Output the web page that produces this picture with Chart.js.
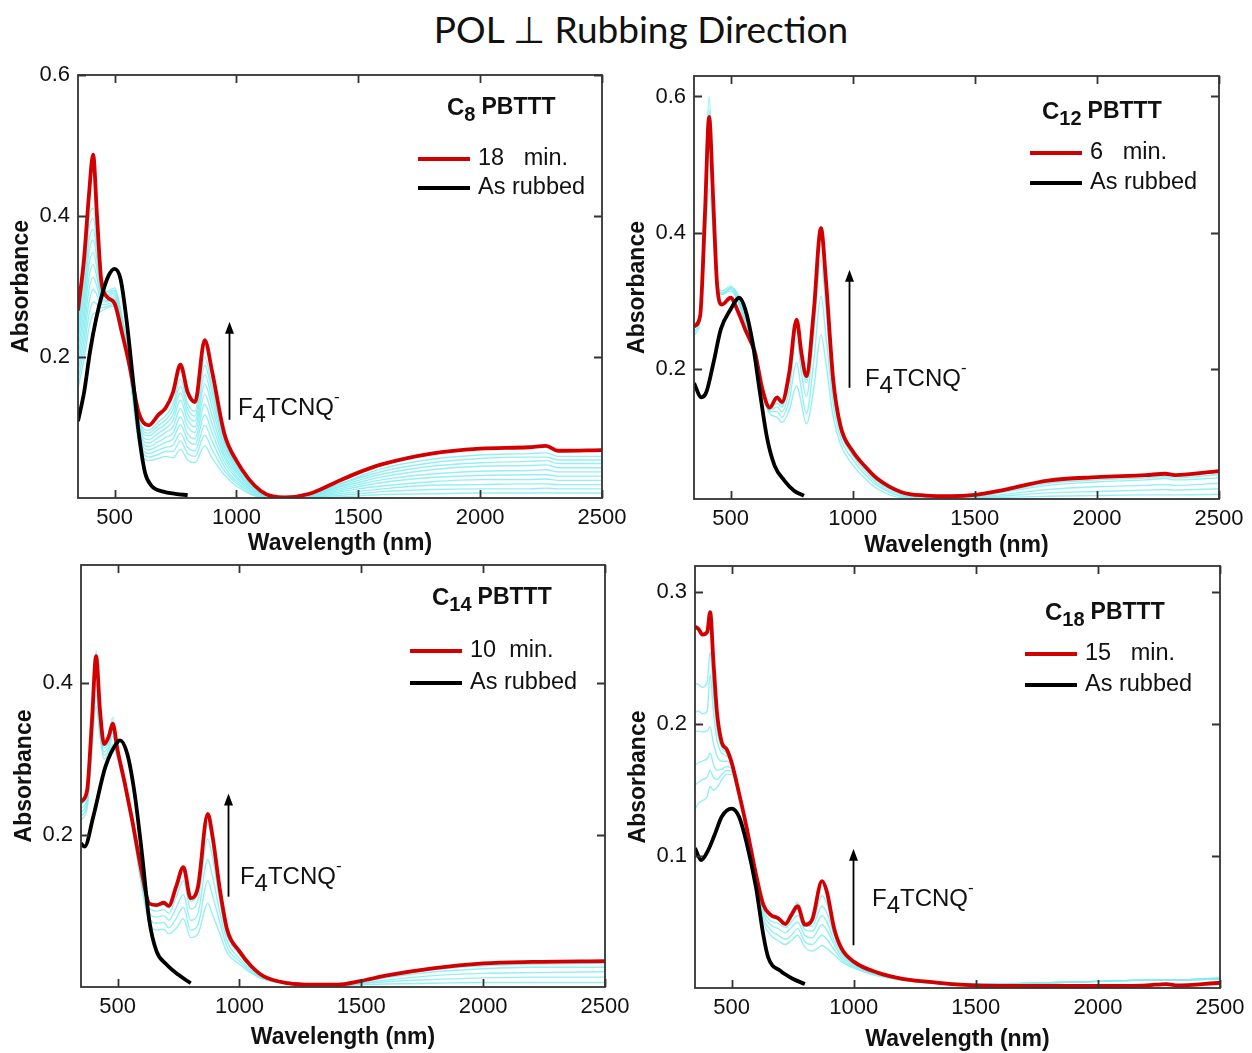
<!DOCTYPE html>
<html>
<head>
<meta charset="utf-8">
<script src="https://cdn.jsdelivr.net/npm/chart.js@4.4.0/dist/chart.umd.min.js"></script>
<style>
  body { margin: 0; background: #fff; width: 1252px; height: 1053px; position: relative; overflow: hidden; }
  #title { position: absolute; left: 15px; width: 1252px; top: 6px; text-align: center;
           font: 37px Lato, "Open Sans", sans-serif; color: #111; }
  canvas { position: absolute; }
</style>
</head>
<body>
<div id="title">POL ⊥ Rubbing Direction</div>
<canvas id="c8"></canvas>
<canvas id="c12"></canvas>
<canvas id="c14"></canvas>
<canvas id="c18"></canvas>
<script>
// ---- data ----
const xTicks = [500, 1000, 1500, 2000, 2500];

// C8 PBTTT
const wl8 = [350, 375, 395, 412, 428, 445, 470, 500, 530, 560, 600, 640, 680, 710, 740, 770, 800, 830, 870, 900, 950, 1000, 1100, 1200, 1300, 1400, 1500, 1600, 1800, 2000, 2200, 2270, 2320, 2500];
const red8 = [0.266, 0.34, 0.43, 0.487, 0.40, 0.31, 0.285, 0.276, 0.235, 0.19, 0.12, 0.103, 0.118, 0.128, 0.15, 0.189, 0.15, 0.136, 0.224, 0.18, 0.092, 0.053, 0.01, 0.001, 0.006, 0.021, 0.036, 0.048, 0.063, 0.070, 0.072, 0.074, 0.067, 0.068];
const blackWl8 = [350, 375, 400, 425, 450, 475, 500, 525, 550, 575, 600, 625, 650, 700, 750, 800];
const black8 = [0.109, 0.15, 0.209, 0.255, 0.29, 0.315, 0.325, 0.31, 0.25, 0.17, 0.09, 0.036, 0.018, 0.009, 0.006, 0.004];
const cyan8 = [
  [.155, .198, .241, .261, .263, .265, .270, .272, .241, .181, .077, .053, .056, .059, .057, .069, .054, .050, .074, .057, .033, .017, .001, 0, 0, .001, .003, .005, .006, .007, .007, .007, .007, .007],
  [.166, .212, .259, .278, .275, .270, .272, .275, .243, .183, .081, .058, .062, .066, .066, .081, .063, .059, .089, .069, .039, .021, .001, 0, .001, .003, .006, .009, .012, .013, .013, .014, .013, .013],
  [.177, .226, .277, .296, .288, .274, .275, .278, .245, .185, .085, .063, .068, .072, .075, .092, .072, .067, .103, .081, .045, .024, .002, 0, .001, .005, .009, .013, .018, .019, .020, .020, .019, .019],
  [.188, .240, .295, .313, .300, .279, .278, .281, .247, .187, .089, .068, .074, .079, .084, .104, .082, .076, .118, .093, .051, .028, .003, 0, .002, .007, .013, .017, .023, .026, .026, .027, .025, .025],
  [.200, .254, .313, .331, .313, .284, .280, .284, .249, .189, .093, .073, .080, .086, .092, .115, .091, .084, .133, .105, .057, .031, .004, 0, .002, .009, .016, .022, .029, .032, .033, .033, .031, .031],
  [.211, .268, .331, .348, .325, .289, .283, .287, .251, .191, .097, .078, .086, .093, .101, .127, .101, .093, .147, .117, .062, .035, .005, .001, .003, .011, .019, .026, .034, .038, .039, .040, .037, .037],
  [.222, .282, .349, .366, .338, .294, .286, .290, .253, .193, .101, .083, .092, .099, .110, .139, .110, .101, .162, .129, .068, .038, .006, .001, .003, .013, .022, .030, .040, .045, .046, .047, .043, .043],
  [.232, .295, .365, .381, .349, .298, .288, .293, .255, .195, .105, .088, .098, .105, .118, .149, .119, .109, .175, .140, .074, .041, .007, .001, .004, .014, .025, .034, .045, .050, .052, .053, .049, .049],
  [.242, .308, .381, .397, .360, .302, .291, .295, .257, .197, .109, .092, .103, .111, .126, .159, .127, .116, .188, .151, .079, .044, .008, .001, .004, .016, .028, .038, .050, .056, .058, .058, .054, .054],
  [.251, .319, .396, .411, .370, .306, .293, .298, .258, .198, .112, .096, .108, .117, .133, .169, .134, .123, .200, .160, .083, .047, .008, .001, .005, .017, .030, .042, .055, .061, .063, .064, .059, .059]
];
const yTicks8 = [0.2, 0.4, 0.6];

// C12 PBTTT
const wl12 = [350, 375, 395, 412, 428, 445, 465, 500, 530, 560, 600, 630, 660, 690, 710, 740, 770, 790, 810, 840, 870, 890, 920, 950, 1000, 1050, 1100, 1200, 1300, 1400, 1500, 1600, 1800, 2000, 2200, 2280, 2320, 2500];
const red12 = [0.263, 0.278, 0.429, 0.570, 0.454, 0.322, 0.295, 0.305, 0.285, 0.258, 0.224, 0.171, 0.144, 0.159, 0.152, 0.195, 0.273, 0.224, 0.190, 0.283, 0.407, 0.332, 0.185, 0.117, 0.080, 0.058, 0.040, 0.020, 0.015, 0.014, 0.016, 0.022, 0.037, 0.042, 0.045, 0.047, 0.045, 0.051];
const blackWl12 = [350, 380, 400, 430, 460, 500, 535, 560, 590, 620, 650, 680, 720, 760, 800];
const black12 = [0.180, 0.159, 0.166, 0.21, 0.259, 0.288, 0.305, 0.288, 0.239, 0.166, 0.098, 0.059, 0.037, 0.022, 0.0146];
const cyan12 = [
  [.25, .27, .38, .465, .40, .32, .31, .32, .31, .28, .235, .17, .135, .13, .122, .14, .176, .15, .12, .17, .251, .21, .13, .09, .06, .04, .025, .012, .011, .011, .011, .012, .014, .015, .016, .016, .016, .017],
  [.255, .275, .41, .53, .43, .325, .31, .318, .305, .275, .232, .17, .138, .138, .13, .155, .21, .17, .135, .21, .307, .25, .15, .10, .068, .046, .03, .014, .012, .012, .012, .014, .019, .021, .023, .024, .023, .025],
  [.26, .28, .43, .56, .44, .325, .31, .315, .30, .27, .23, .17, .14, .145, .138, .17, .245, .195, .16, .25, .36, .29, .165, .108, .074, .051, .033, .016, .013, .013, .013, .016, .024, .028, .030, .031, .030, .033],
  [.265, .285, .46, .60, .47, .33, .315, .322, .305, .27, .228, .17, .142, .15, .145, .185, .26, .212, .18, .275, .405, .325, .18, .113, .078, .055, .036, .018, .014, .014, .014, .019, .030, .035, .038, .040, .038, .041],
  [.26, .28, .44, .58, .46, .328, .312, .318, .30, .265, .226, .17, .143, .155, .148, .19, .268, .218, .185, .28, .41, .33, .183, .115, .08, .057, .037, .019, .014, .014, .015, .020, .033, .038, .041, .043, .041, .046]
];
const yTicks12 = [0.2, 0.4, 0.6];

// C14 PBTTT
const wl14 = [350, 375, 395, 412, 428, 445, 465, 480, 500, 530, 560, 600, 630, 660, 690, 710, 740, 770, 800, 830, 870, 890, 920, 950, 1000, 1050, 1100, 1200, 1300, 1400, 1500, 1600, 1800, 2000, 2200, 2500];
const red14 = [0.244, 0.259, 0.351, 0.436, 0.364, 0.320, 0.331, 0.347, 0.312, 0.268, 0.220, 0.150, 0.110, 0.108, 0.111, 0.107, 0.132, 0.158, 0.117, 0.132, 0.228, 0.198, 0.128, 0.075, 0.047, 0.027, 0.014, 0.005, 0.003, 0.003, 0.008, 0.015, 0.025, 0.031, 0.033, 0.034];
const blackWl14 = [350, 365, 400, 450, 500, 510, 540, 570, 600, 630, 660, 700, 750, 800];
const black14 = [0.189, 0.185, 0.224, 0.29, 0.323, 0.325, 0.307, 0.255, 0.176, 0.088, 0.047, 0.030, 0.016, 0.005];
const cyan14 = [
  [.22, .235, .31, .37, .33, .30, .31, .32, .30, .26, .21, .13, .085, .075, .076, .07, .077, .09, .065, .07, .11, .095, .07, .045, .03, .018, .01, .004, .002, .002, .003, .004, .005, .006, .006, .006],
  [.225, .24, .32, .385, .335, .305, .315, .33, .305, .262, .212, .135, .092, .084, .085, .078, .09, .105, .075, .082, .14, .12, .085, .052, .034, .02, .011, .004, .002, .002, .004, .007, .01, .012, .013, .013],
  [.23, .245, .33, .40, .34, .31, .32, .34, .308, .264, .215, .14, .098, .092, .094, .088, .104, .122, .088, .097, .168, .145, .098, .06, .038, .022, .012, .004, .002, .002, .005, .009, .015, .018, .019, .02],
  [.235, .25, .34, .42, .35, .315, .325, .35, .31, .266, .217, .145, .104, .1, .102, .097, .118, .14, .103, .115, .195, .17, .112, .067, .043, .024, .013, .005, .003, .003, .006, .012, .02, .024, .026, .026],
  [.24, .255, .355, .443, .36, .318, .33, .355, .312, .267, .219, .148, .108, .106, .108, .104, .128, .152, .113, .127, .215, .188, .122, .072, .047, .026, .014, .005, .003, .003, .007, .014, .023, .028, .03, .031]
];
const yTicks14 = [0.2, 0.4];

// C18 PBTTT
const wl18 = [350, 365, 380, 400, 412, 425, 440, 460, 480, 500, 530, 560, 600, 630, 660, 690, 720, 745, 770, 800, 830, 870, 890, 920, 950, 1000, 1100, 1200, 1300, 1400, 1500, 1800, 2000, 2200, 2280, 2320, 2500];
const red18 = [0.274, 0.272, 0.268, 0.270, 0.285, 0.249, 0.209, 0.186, 0.181, 0.171, 0.148, 0.123, 0.086, 0.063, 0.0555, 0.053, 0.0485, 0.0555, 0.062, 0.048, 0.052, 0.081, 0.073, 0.045, 0.030, 0.020, 0.0115, 0.007, 0.0048, 0.003, 0.002, 0.0015, 0.0015, 0.002, 0.003, 0.002, 0.004];
const blackWl18 = [350, 375, 400, 430, 460, 500, 530, 560, 600, 630, 650, 700, 750, 800];
const black18 = [0.106, 0.097, 0.103, 0.116, 0.130, 0.136, 0.130, 0.111, 0.076, 0.040, 0.023, 0.013, 0.007, 0.003];
const cyan18 = [
  [.136, .14, .142, .145, .153, .15, .152, .158, .162, .162, .145, .122, .08, .05, .04, .036, .033, .036, .04, .031, .028, .032, .03, .025, .02, .015, .009, .006, .004, .003, .003, .004, .005, .006, .006, .006, .007],
  [.154, .156, .158, .16, .165, .16, .158, .162, .165, .164, .146, .122, .081, .053, .044, .04, .037, .04, .045, .035, .033, .04, .037, .029, .022, .016, .01, .006, .004, .003, .003, .004, .005, .006, .006, .006, .007],
  [.169, .171, .172, .174, .178, .17, .165, .166, .168, .166, .147, .123, .082, .056, .048, .045, .042, .046, .05, .04, .038, .048, .044, .033, .024, .017, .01, .006, .004, .003, .003, .004, .005, .006, .006, .006, .007],
  [.194, .195, .194, .195, .198, .186, .176, .172, .172, .168, .148, .123, .083, .059, .051, .049, .046, .05, .055, .044, .043, .055, .05, .036, .026, .018, .011, .007, .004, .003, .003, .004, .005, .006, .006, .006, .007],
  [.209, .21, .208, .21, .238, .21, .188, .178, .176, .17, .148, .124, .084, .061, .054, .052, .049, .054, .06, .047, .047, .062, .057, .04, .028, .019, .011, .007, .004, .003, .003, .004, .005, .006, .006, .006, .007],
  [.231, .23, .228, .232, .255, .225, .196, .182, .178, .171, .148, .124, .085, .062, .056, .054, .05, .057, .065, .05, .05, .07, .064, .043, .029, .02, .012, .007, .005, .004, .003, .004, .005, .006, .006, .006, .008]
];
const yTicks18 = [0.1, 0.2, 0.3];

// ---- layout per panel ----
const panels = [
  { id: 'c8', area: { l: 78, t: 75, r: 602, b: 498 }, ymin: 0, ymax: 0.6, yTicks: yTicks8,
    wl: wl8, red: red8, bwl: blackWl8, black: black8, cyan: cyan8,
    sub: '8', time: '18   min.', xTitleOff: 46,
    legend: { tx: 369, ty: 33, lx: 340, r1: 84, r2: 113 },
    arrow: { x: 970, y0: 0.111, y1: 0.25, lx: 1006, ly: 0.127 } },
  { id: 'c12', area: { l: 694, t: 76, r: 1219, b: 499 }, ymin: 0.01, ymax: 0.63, yTicks: yTicks12,
    wl: wl12, red: red12, bwl: blackWl12, black: black12, cyan: cyan12,
    sub: '12', time: '6   min.', xTitleOff: 47,
    legend: { tx: 348, ty: 36, lx: 336, r1: 77, r2: 107 },
    arrow: { x: 985, y0: 0.173, y1: 0.346, lx: 1050, ly: 0.186 } },
  { id: 'c14', area: { l: 81, t: 565, r: 605, b: 987 }, ymin: 0, ymax: 0.556, yTicks: yTicks14,
    wl: wl14, red: red14, bwl: blackWl14, black: black14, cyan: cyan14,
    sub: '14', time: '10  min.', xTitleOff: 51,
    legend: { tx: 351, ty: 33, lx: 329, r1: 86, r2: 118 },
    arrow: { x: 953, y0: 0.119, y1: 0.255, lx: 1002, ly: 0.145 } },
  { id: 'c18', area: { l: 695, t: 566, r: 1220, b: 988 }, ymin: 0, ymax: 0.32, yTicks: yTicks18,
    wl: wl18, red: red18, bwl: blackWl18, black: black18, cyan: cyan18,
    sub: '18', time: '15   min.', xTitleOff: 52,
    legend: { tx: 350, ty: 47, lx: 330, r1: 88, r2: 119 },
    arrow: { x: 997, y0: 0.0324, y1: 0.1055, lx: 1075, ly: 0.067 } }
];

const RED = '#d20000';
const CYAN = 'rgba(130, 236, 240, 0.85)';
const FONT = '"Liberation Sans", Arial, sans-serif';

function drawRich(ctx, parts, x, y) {
  ctx.textBaseline = 'middle';
  ctx.textAlign = 'left';
  parts.forEach(p => {
    ctx.font = (p.bold ? 'bold ' : '') + p.size + 'px ' + FONT;
    ctx.fillText(p.t, x, y + (p.dy || 0));
    x += ctx.measureText(p.t).width + (p.gap || 0);
  });
}

function makeDecor(p) {
  return {
    id: 'decor',
    afterDraw(chart) {
      const ctx = chart.ctx;
      const a = chart.chartArea;
      const xs = chart.scales.x, ys = chart.scales.y;
      ctx.save();
      // frame
      ctx.strokeStyle = '#333';
      ctx.lineWidth = 1.8;
      ctx.strokeRect(a.left, a.top, a.right - a.left, a.bottom - a.top);
      // inward ticks on all four sides
      ctx.beginPath();
      xTicks.forEach(v => {
        const px = Math.round(xs.getPixelForValue(v)) + 0.5;
        ctx.moveTo(px, a.bottom); ctx.lineTo(px, a.bottom - 8);
        ctx.moveTo(px, a.top); ctx.lineTo(px, a.top + 8);
      });
      p.yTicks.forEach(v => {
        const py = Math.round(ys.getPixelForValue(v)) + 0.5;
        ctx.moveTo(a.left, py); ctx.lineTo(a.left + 8, py);
        ctx.moveTo(a.right, py); ctx.lineTo(a.right - 8, py);
      });
      ctx.stroke();

      // legend
      const L = p.legend;
      ctx.fillStyle = '#111';
      drawRich(ctx, [
        { t: 'C', size: 24, bold: true },
        { t: p.sub, size: 20, bold: true, dy: 7, gap: 6 },
        { t: 'PBTTT', size: 23, bold: true }
      ], a.left + L.tx, a.top + L.ty);
      ctx.lineWidth = 4;
      ctx.strokeStyle = RED;
      ctx.beginPath();
      ctx.moveTo(a.left + L.lx, a.top + L.r1); ctx.lineTo(a.left + L.lx + 52, a.top + L.r1);
      ctx.stroke();
      ctx.strokeStyle = '#000';
      ctx.beginPath();
      ctx.moveTo(a.left + L.lx, a.top + L.r2); ctx.lineTo(a.left + L.lx + 52, a.top + L.r2);
      ctx.stroke();
      drawRich(ctx, [{ t: p.time, size: 23.5 }], a.left + L.lx + 60, a.top + L.r1);
      drawRich(ctx, [{ t: 'As rubbed', size: 23.5 }], a.left + L.lx + 60, a.top + L.r2);

      // arrow + label
      const A = p.arrow;
      const ax = Math.round(xs.getPixelForValue(A.x)) + 0.5;
      const y0 = ys.getPixelForValue(A.y0), y1 = ys.getPixelForValue(A.y1);
      ctx.strokeStyle = '#000';
      ctx.lineWidth = 1.8;
      ctx.beginPath();
      ctx.moveTo(ax, y0); ctx.lineTo(ax, y1 + 8);
      ctx.stroke();
      ctx.fillStyle = '#000';
      ctx.beginPath();
      ctx.moveTo(ax, y1); ctx.lineTo(ax - 4.5, y1 + 12); ctx.lineTo(ax + 4.5, y1 + 12);
      ctx.closePath();
      ctx.fill();
      ctx.fillStyle = '#111';
      drawRich(ctx, [
        { t: 'F', size: 24 },
        { t: '4', size: 24, dy: 7 },
        { t: 'TCNQ', size: 24 },
        { t: '-', size: 17, dy: -11 }
      ], xs.getPixelForValue(A.lx), ys.getPixelForValue(A.ly));
      ctx.restore();
    }
  };
}

panels.forEach(p => {
  const a = p.area;
  const CL = a.l - 78, CT = a.t - 25;
  const CW = a.r - CL + 40, CH = a.b - CT + 70;
  const cv = document.getElementById(p.id);
  cv.width = CW; cv.height = CH;
  cv.style.left = CL + 'px'; cv.style.top = CT + 'px';
  cv.style.width = CW + 'px'; cv.style.height = CH + 'px';

  const datasets = [];
  datasets.push({ data: p.bwl.map((x, i) => ({ x: x, y: p.black[i] })), borderColor: '#000', borderWidth: 3.8 });
  datasets.push({ data: p.wl.map((x, i) => ({ x: x, y: p.red[i] })), borderColor: RED, borderWidth: 3.8 });
  p.cyan.forEach(c => {
    datasets.push({ data: p.wl.map((x, i) => ({ x: x, y: c[i] })), borderColor: CYAN, borderWidth: 1.4 });
  });

  new Chart(cv, {
    type: 'line',
    data: { datasets: datasets },
    options: {
      responsive: false,
      animation: false,
      devicePixelRatio: 1,
      parsing: false,
      elements: { point: { radius: 0 }, line: { cubicInterpolationMode: 'monotone' } },
      layout: { autoPadding: false, padding: { left: 0, top: a.t - CT, right: CL + CW - a.r, bottom: 0 } },
      plugins: { legend: { display: false }, tooltip: { enabled: false } },
      scales: {
        x: {
          type: 'linear', min: 350, max: 2500,
          afterFit: s => { s.height = CT + CH - a.b; },
          afterBuildTicks: s => { s.ticks = xTicks.map(v => ({ value: v })); },
          grid: { display: false, drawTicks: false },
          border: { display: false },
          ticks: { padding: 7, color: '#111', font: { family: FONT, size: 22 }, maxRotation: 0, autoSkip: false,
                   callback: v => String(v) },
          title: { display: true, text: 'Wavelength (nm)', color: '#111',
                   font: { family: FONT, size: 23, weight: 'bold' },
                   padding: { top: 0, bottom: 70 - p.xTitleOff - 13.8 } }
        },
        y: {
          type: 'linear', min: p.ymin, max: p.ymax,
          afterFit: s => { s.width = a.l - CL; },
          afterBuildTicks: s => { s.ticks = p.yTicks.map(v => ({ value: v })); },
          grid: { display: false, drawTicks: false },
          border: { display: false },
          ticks: { padding: 8, color: '#111', font: { family: FONT, size: 22 }, autoSkip: false,
                   callback: v => v.toFixed(1) },
          title: { display: true, text: 'Absorbance', color: '#111',
                   font: { family: FONT, size: 23, weight: 'bold' },
                   padding: { top: 8, bottom: 0 } }
        }
      }
    },
    plugins: [makeDecor(p)]
  });
});
</script>
</body>
</html>
